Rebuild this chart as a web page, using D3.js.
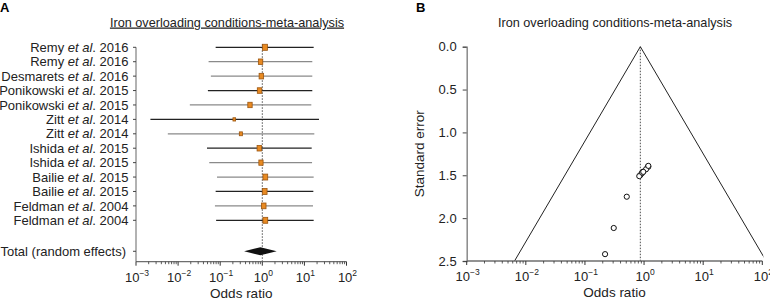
<!DOCTYPE html>
<html>
<head>
<meta charset="utf-8">
<script src="https://cdn.jsdelivr.net/npm/d3@7"></script>
<style>
  body { margin: 0; background: #fff; }
  svg { font-family: "Liberation Sans", Arial, sans-serif; }
</style>
</head>
<body>
<div id="chart"></div>
<script>
// forest plot rows
var studies = ["Remy", "Remy", "Desmarets", "Ponikowski", "Ponikowski", "Zitt", "Zitt",
               "Ishida", "Ishida", "Bailie", "Bailie", "Feldman", "Feldman"];
var years = [2016, 2016, 2016, 2015, 2015, 2014, 2014, 2015, 2015, 2015, 2015, 2004, 2004];
var oddsRatio = [1.16, 0.91, 0.95, 0.86, 0.51, 0.216, 0.31, 0.85, 0.93, 1.18, 1.14, 1.08, 1.18];
var ciLower = [0.078, 0.053, 0.060, 0.051, 0.019, 0.0022, 0.0057, 0.0485, 0.055, 0.084, 0.078, 0.075, 0.080];
var ciUpper = [16.6, 15.4, 15.4, 15.4, 14.6, 22.2, 17.2, 14.9, 15.2, 16.6, 16.3, 16.0, 16.6];
var weights = [9.5, 7.8, 8.2, 8.0, 7.6, 2.8, 3.9, 8.1, 7.2, 9.1, 9.0, 8.6, 9.2];
var totalLabel = "Total (random effects)";
var totalOR = 0.9, totalLower = 0.37, totalUpper = 2.2;

// funnel plot points
var funnelOR = [1.16, 0.91, 0.95, 0.86, 0.51, 0.219, 0.307, 0.83, 0.93, 1.18, 1.08, 0.97, 1.18];
var funnelSE = [1.40, 1.48, 1.46, 1.50, 1.75, 2.42, 2.115, 1.51, 1.47, 1.40, 1.43, 1.46, 1.39];
var pooledOR = 0.865;

var xTicks = [1e-3, 1e-2, 1e-1, 1e0, 1e1, 1e2];
var seTicks = [0, 0.5, 1.0, 1.5, 2.0, 2.5];
var title = "Iron overloading conditions-meta-analysis";

var svg = d3.select("#chart").append("svg")
    .attr("width", 770).attr("height", 300);

var axisColor = "#6e6e6e";
var fs = 13;
var grayRows = [1, 2, 4, 6, 8, 9, 11];

function expLabel(d) {
    var e = Math.round(Math.log10(d));
    return e < 0 ? "\u2212" + (-e) : String(e);
}

function logAxis(g, x, y0) {
    var minor = [];
    for (var e = -3; e < 2; ++e) {
        for (var k = 2; k < 10; ++k) minor.push(k * Math.pow(10, e));
    }
    g.append("line")
        .attr("x1", x.range()[0]).attr("x2", x.range()[1])
        .attr("y1", y0).attr("y2", y0)
        .attr("stroke", axisColor).attr("stroke-width", 1.3);
    g.selectAll(".minor").data(minor).enter().append("line")
        .attr("x1", function(d) { return x(d); }).attr("x2", function(d) { return x(d); })
        .attr("y1", y0).attr("y2", y0 + 2.5)
        .attr("stroke", "#333").attr("stroke-width", 0.8);
    g.selectAll(".major").data(xTicks).enter().append("line")
        .attr("x1", function(d) { return x(d); }).attr("x2", function(d) { return x(d); })
        .attr("y1", y0).attr("y2", y0 + 4)
        .attr("stroke", "#333").attr("stroke-width", 1);
    var lab = g.selectAll(".tl").data(xTicks).enter().append("text")
        .attr("x", function(d) { return x(d) + 1; })
        .attr("y", y0 + 20)
        .attr("text-anchor", "middle")
        .attr("font-size", fs).attr("fill", "#222");
    lab.append("tspan").text("10");
    lab.append("tspan")
        .attr("font-size", 8.5).attr("dy", -6)
        .text(expLabel);
    g.append("text")
        .attr("x", (x.range()[0] + x.range()[1]) / 2)
        .attr("y", y0 + 36)
        .attr("text-anchor", "middle")
        .attr("font-size", 13.5).attr("fill", "#222")
        .text("Odds ratio");
}

// ---------- panel A: forest plot ----------
var gA = svg.append("g");
var xA = d3.scaleLog().domain([1e-3, 1e2]).range([136, 346.5]);
var yA = d3.scaleLinear().domain([0, 12]).range([47.3, 220.3]);
var totalRow = 14.15;
var axisYA = 261.7;
var boxSize = d3.scaleSqrt().domain([0, 10]).range([0, 5]);

gA.append("text").attr("x", 0).attr("y", 12)
    .attr("font-size", 13).attr("font-weight", "bold").text("A");
gA.append("text").attr("x", 227).attr("y", 26.5)
    .attr("text-anchor", "middle").attr("font-size", 12.7).attr("fill", "#222")
    .attr("text-decoration", "underline").text(title);

// y axis with row ticks
gA.append("line")
    .attr("x1", xA.range()[0]).attr("x2", xA.range()[0])
    .attr("y1", yA(0)).attr("y2", axisYA)
    .attr("stroke", "#999").attr("stroke-width", 1.5);
var rowTicks = d3.range(studies.length).concat([totalRow]);
gA.selectAll(".rt").data(rowTicks).enter().append("line")
    .attr("x1", xA.range()[0] - 3).attr("x2", xA.range()[0])
    .attr("y1", function(d) { return yA(d); }).attr("y2", function(d) { return yA(d); })
    .attr("stroke", "#444").attr("stroke-width", 1);

var labels = gA.selectAll(".lab").data(studies).enter().append("text")
    .attr("x", 128.5)
    .attr("y", function(d, i) { return yA(i); })
    .attr("dy", "0.36em")
    .attr("text-anchor", "end")
    .attr("font-size", fs).attr("fill", "#222");
labels.append("tspan").text(function(d) { return d + " "; });
labels.append("tspan").attr("font-style", "italic").text("et al");
labels.append("tspan").text(function(d, i) { return ". " + years[i]; });

gA.append("text")
    .attr("x", 126).attr("y", yA(totalRow)).attr("dy", "0.36em")
    .attr("text-anchor", "end").attr("font-size", fs).attr("fill", "#222")
    .text(totalLabel);

// reference line at OR = 1
gA.append("line")
    .attr("x1", xA(1)).attr("x2", xA(1))
    .attr("y1", yA(0) - 3).attr("y2", axisYA)
    .attr("stroke", "#222").attr("stroke-width", 0.8)
    .attr("stroke-dasharray", "1.5,1.5");

gA.selectAll(".ci").data(studies).enter().append("line")
    .attr("x1", function(d, i) { return xA(ciLower[i]); })
    .attr("x2", function(d, i) { return xA(ciUpper[i]); })
    .attr("y1", function(d, i) { return yA(i); })
    .attr("y2", function(d, i) { return yA(i); })
    .attr("stroke", function(d, i) { return grayRows.indexOf(i) >= 0 ? "#8a8a8a" : "#222"; })
    .attr("stroke-width", 1.3);

gA.selectAll(".box").data(studies).enter().append("rect")
    .attr("x", function(d, i) { return xA(oddsRatio[i]) - boxSize(weights[i]) / 2; })
    .attr("y", function(d, i) { return yA(i) - boxSize(weights[i]) * 0.62; })
    .attr("width", function(d, i) { return boxSize(weights[i]); })
    .attr("height", function(d, i) { return boxSize(weights[i]) * 1.24; })
    .attr("fill", "#e88a22").attr("stroke", "#9b5510").attr("stroke-width", 0.8);

var ty = yA(totalRow);
gA.append("path")
    .attr("d", "M" + xA(totalLower) + "," + ty + "L" + xA(totalOR) + "," + (ty - 4) +
               "L" + xA(totalUpper) + "," + ty + "L" + xA(totalOR) + "," + (ty + 4) + "Z")
    .attr("fill", "#111");

logAxis(gA, xA, axisYA);

// ---------- panel B: funnel plot ----------
var gB = svg.append("g");
var xB = d3.scaleLog().domain([1e-3, 1e2]).range([466.7, 762.3]);
var yB = d3.scaleLinear().domain([0, 2.5]).range([46.7, 261]);

gB.append("text").attr("x", 416).attr("y", 12)
    .attr("font-size", 13).attr("font-weight", "bold").text("B");
gB.append("text").attr("x", 615).attr("y", 26.5)
    .attr("text-anchor", "middle").attr("font-size", 12.7).attr("fill", "#222")
    .text(title);

svg.append("clipPath").attr("id", "clipB").append("rect")
    .attr("x", xB.range()[0]).attr("y", yB.range()[0] - 1)
    .attr("width", xB.range()[1] - xB.range()[0] + 1)
    .attr("height", yB.range()[1] - yB.range()[0] + 1);

var funnel = d3.line()
    .x(function(d) { return xB(pooledOR * Math.exp(d[0] * 1.96 * d[1])); })
    .y(function(d) { return yB(d[1]); });
gB.append("path")
    .attr("clip-path", "url(#clipB)")
    .attr("d", funnel([[-1, 2.5], [-1, 0], [1, 0], [1, 2.5]]))
    .attr("fill", "none").attr("stroke", "#222").attr("stroke-width", 1);

gB.append("line")
    .attr("x1", xB(pooledOR)).attr("x2", xB(pooledOR))
    .attr("y1", yB(0)).attr("y2", yB(2.5))
    .attr("stroke", "#222").attr("stroke-width", 0.8)
    .attr("stroke-dasharray", "1.5,1.5");

var yAxisB = gB.append("g")
    .attr("transform", "translate(" + xB.range()[0] + ",0)")
    .call(d3.axisLeft(yB).tickValues(seTicks).tickFormat(d3.format(".1f"))
        .tickSize(4).tickPadding(6));
yAxisB.select(".domain").attr("stroke", "#8a8a8a").attr("stroke-width", 1.5);
yAxisB.selectAll(".tick line").attr("stroke", "#444");
yAxisB.selectAll("text")
    .attr("font-size", fs).attr("fill", "#222")
    .attr("font-family", "Liberation Sans, Arial, sans-serif");

gB.append("text")
    .attr("transform", "translate(424," + ((yB.range()[0] + yB.range()[1]) / 2) + ") rotate(-90)")
    .attr("text-anchor", "middle").attr("font-size", 13.5).attr("fill", "#222")
    .text("Standard error");

gB.selectAll(".pt").data(funnelOR).enter().append("circle")
    .attr("cx", function(d) { return xB(d); })
    .attr("cy", function(d, i) { return yB(funnelSE[i]); })
    .attr("r", 2.6)
    .attr("fill", "#fff").attr("stroke", "#111").attr("stroke-width", 1);

logAxis(gB, xB, yB.range()[1]);
</script>
</body>
</html>
